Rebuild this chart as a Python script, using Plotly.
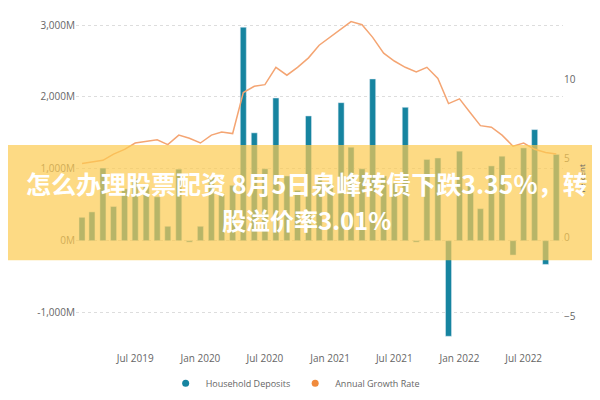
import pandas as pd
import plotly.graph_objects as go

months = pd.date_range("2019-02-01", periods=45, freq="MS")
deposits = [325, 400, 1010, 475, 720, 860, 770, 610, 200, 995, -20, 200, 880, 655, 770,
            2970, 1500, 1000, 1985, 900, 700, 1735, 900, 800, 1920, 1300, 1000, 2250, 900, 800,
            1855, -20, 1130, 1150, -1330, 1245, 770, 445, 1040, 1175, -200, 1290, 1545, -330, 1200]
growth = [4.7, 4.8, 4.9, 5.3, 5.6, 6.0, 6.1, 6.2, 5.9, 6.5, 6.3, 6.0, 6.5, 6.7, 6.6,
          9.2, 9.6, 9.7, 10.8, 10.3, 10.8, 11.4, 12.2, 12.7, 13.2, 13.7, 13.5, 12.7, 11.7, 11.2,
          10.8, 10.5, 10.8, 10.1, 8.5, 8.8, 7.9, 7.1, 7.0, 6.5, 5.8, 6.0, 5.6, 5.4, 5.3]
left_ticks = [-1000, 0, 1000, 2000, 3000]
left_labels = ["-1,000M", "0M", "1,000M", "2,000M", "3,000M"]
bar_color = "#1684a0"
line_color = "#f4a573"

fig = go.Figure()
fig.add_trace(go.Bar(x=months, y=deposits, name="Household Deposits", showlegend=False,
                     marker_color=bar_color, width=1000 * 3600 * 24 * 17))
fig.add_trace(go.Scatter(x=months, y=growth, name="Annual Growth Rate", yaxis="y2", showlegend=False,
                         mode="lines", line=dict(color=line_color, width=1.5)))
# legend entries with round markers
for name, c in [("Household Deposits", bar_color), ("Annual Growth Rate", "#f08a3c")]:
    fig.add_trace(go.Scatter(x=[None], y=[None], mode="markers", name=name,
                             marker=dict(color=c, size=7, symbol="circle")))

grey = "#666666"
fig.update_layout(
    width=600, height=400, margin=dict(l=68, r=45, t=10, b=60),
    plot_bgcolor="white", paper_bgcolor="white",
    font=dict(family="Open Sans", size=10, color=grey),
    xaxis=dict(tickformat="%b %Y", dtick="M6", tick0="2019-07-01", showgrid=False,
               range=["2019-01-15", "2022-10-20"], ticks="outside", ticklen=12, tickcolor="white"),
    yaxis=dict(range=[-1340, 3070], tickvals=left_ticks, ticktext=left_labels,
               gridcolor="#dddddd", griddash="dot", zeroline=False),
    yaxis2=dict(overlaying="y", side="right", range=[-6.3, 13.8], tickvals=[-5, 0, 5, 10],
                showgrid=False, zeroline=False,
                title=dict(text="Percent", font=dict(size=8), standoff=4)),
    legend=dict(orientation="h", x=0.45, xanchor="center", y=-0.1, yanchor="top",
                font=dict(size=9), itemwidth=30, tracegroupgap=0),
    bargap=0.3,
    shapes=[dict(type="rect", xref="paper", yref="paper", x0=-0.15, x1=1.1, y0=0.242, y1=0.606,
                 fillcolor="rgba(252,202,80,0.7)", line_width=0, layer="above")],
)
fig.add_annotation(text="<b>怎么办理股票配资 8月5日泉峰转债下跌3.35%，转</b>", xref="paper", yref="paper",
                   x=0.474, y=0.485, showarrow=False,
                   font=dict(family="Noto Sans CJK SC", size=25, color="white"))
fig.add_annotation(text="<b>股溢价率3.01%</b>", xref="paper", yref="paper",
                   x=0.474, y=0.37, showarrow=False,
                   font=dict(family="Noto Sans CJK SC", size=24, color="white"))
fig.write_html("out.html")
